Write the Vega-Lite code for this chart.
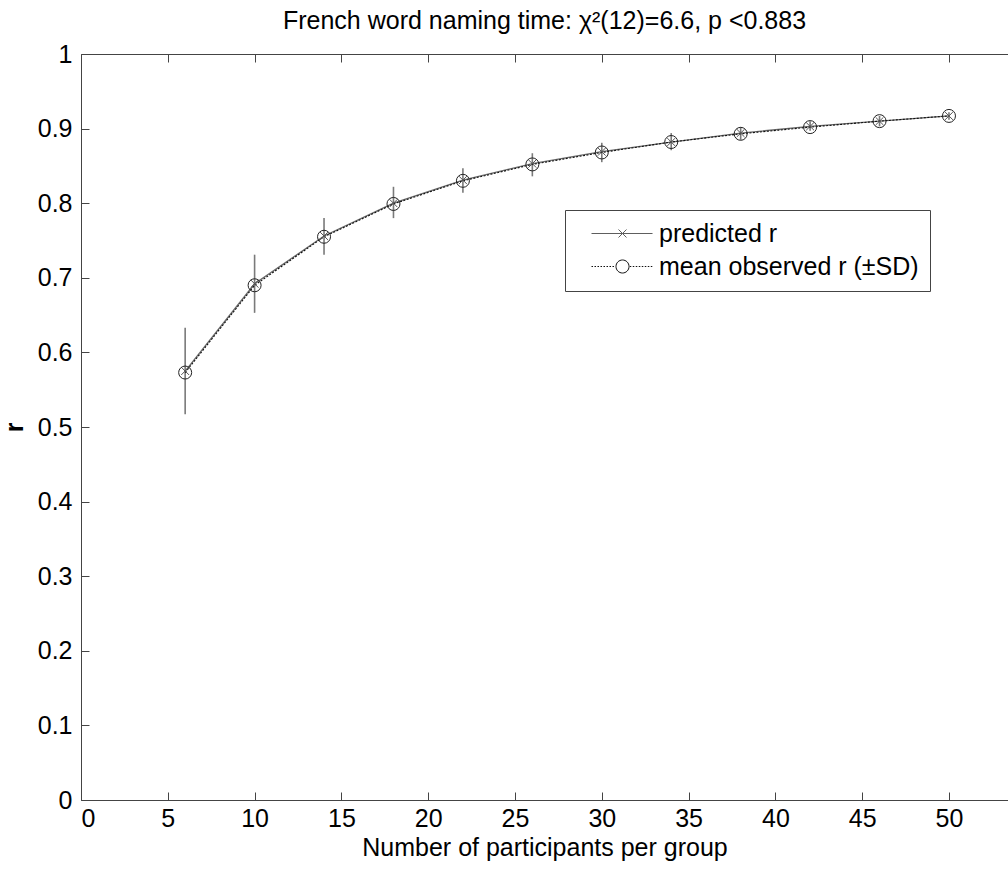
{
  "$schema": "https://vega.github.io/schema/vega-lite/v6.json",
  "width": 927,
  "height": 746,
  "autosize": {"type": "none"},
  "padding": {"left": 81, "top": 54, "right": 0, "bottom": 70},
  "background": "white",
  "title": {"text": "French word naming time: χ²(12)=6.6, p <0.883", "fontSize": 25, "font": "Liberation Sans", "fontWeight": "normal", "color": "black", "baseline": "alphabetic", "offset": -12, "anchor": "middle"},
  "config": {
    "view": {"stroke": null},
    "axis": {
      "labelFont": "Liberation Sans", "labelFontSize": 25, "labelColor": "black",
      "titleFont": "Liberation Sans", "titleFontSize": 25, "titleFontWeight": "normal", "titleColor": "black",
      "tickColor": "#444", "domainColor": "#444", "tickSize": -8, "tickWidth": 1, "domainWidth": 1, "grid": false
    },
    "axisX": {"labelPadding": 14},
    "axisY": {"labelPadding": 17},
    "legend": {
      "padding": 11, "strokeColor": "#444", "fillColor": "white",
      "labelFont": "Liberation Sans", "labelFontSize": 25, "labelColor": "black", "labelOffset": 58,
      "rowPadding": 7, "symbolSize": 88, "labelLimit": 400, "symbolStrokeWidth": 1
    }
  },
  "datasets": {
    "pts": [
      {"n": 6, "r": 0.575, "series": "predicted r"},
      {"n": 10, "r": 0.692, "series": "predicted r"},
      {"n": 14, "r": 0.756, "series": "predicted r"},
      {"n": 18, "r": 0.800, "series": "predicted r"},
      {"n": 22, "r": 0.831, "series": "predicted r"},
      {"n": 26, "r": 0.853, "series": "predicted r"},
      {"n": 30, "r": 0.869, "series": "predicted r"},
      {"n": 34, "r": 0.882, "series": "predicted r"},
      {"n": 38, "r": 0.894, "series": "predicted r"},
      {"n": 42, "r": 0.903, "series": "predicted r"},
      {"n": 46, "r": 0.910, "series": "predicted r"},
      {"n": 50, "r": 0.917, "series": "predicted r"},
      {"n": 6, "r": 0.573, "series": "mean observed r (±SD)"},
      {"n": 10, "r": 0.690, "series": "mean observed r (±SD)"},
      {"n": 14, "r": 0.755, "series": "mean observed r (±SD)"},
      {"n": 18, "r": 0.799, "series": "mean observed r (±SD)"},
      {"n": 22, "r": 0.830, "series": "mean observed r (±SD)"},
      {"n": 26, "r": 0.852, "series": "mean observed r (±SD)"},
      {"n": 30, "r": 0.868, "series": "mean observed r (±SD)"},
      {"n": 34, "r": 0.882, "series": "mean observed r (±SD)"},
      {"n": 38, "r": 0.893, "series": "mean observed r (±SD)"},
      {"n": 42, "r": 0.902, "series": "mean observed r (±SD)"},
      {"n": 46, "r": 0.910, "series": "mean observed r (±SD)"},
      {"n": 50, "r": 0.917, "series": "mean observed r (±SD)"}
    ],
    "err": [
      {"n": 6, "lo": 0.517, "hi": 0.633},
      {"n": 10, "lo": 0.653, "hi": 0.731},
      {"n": 14, "lo": 0.731, "hi": 0.780},
      {"n": 18, "lo": 0.780, "hi": 0.822},
      {"n": 22, "lo": 0.814, "hi": 0.847},
      {"n": 26, "lo": 0.836, "hi": 0.867},
      {"n": 30, "lo": 0.855, "hi": 0.881},
      {"n": 34, "lo": 0.871, "hi": 0.894},
      {"n": 38, "lo": 0.885, "hi": 0.902},
      {"n": 42, "lo": 0.897, "hi": 0.910},
      {"n": 46, "lo": 0.903, "hi": 0.917},
      {"n": 50, "lo": 0.912, "hi": 0.922}
    ]
  },
  "resolve": {"axis": {"x": "independent"}},
  "layer": [
    {
      "data": {"name": "err"},
      "mark": {"type": "rule", "color": "#7a7a7a", "strokeWidth": 1.6},
      "encoding": {
        "x": {"field": "n", "type": "quantitative", "scale": {"domain": [0, 53.4], "nice": false, "zero": false},
              "axis": {"orient": "bottom", "values": [0, 5, 10, 15, 20, 25, 30, 35, 40, 45, 50], "title": "Number of participants per group", "titlePadding": 4}},
        "y": {"field": "lo", "type": "quantitative", "scale": {"domain": [0, 1], "nice": false, "zero": false},
              "axis": {"orient": "left", "values": [0, 0.1, 0.2, 0.3, 0.4, 0.5, 0.6, 0.7, 0.8, 0.9, 1], "format": "~g", "title": "r", "titleFontWeight": "bold", "titlePadding": 10}},
        "y2": {"field": "hi"}
      }
    },
    {
      "data": {"name": "pts"},
      "transform": [{"filter": "datum.series === 'predicted r'"}],
      "mark": {"type": "line", "strokeWidth": 1.3, "color": "#6a6a6a"},
      "encoding": {
        "x": {"field": "n", "type": "quantitative", "axis": null},
        "y": {"field": "r", "type": "quantitative", "axis": {"orient": "left", "values": [0, 0.1, 0.2, 0.3, 0.4, 0.5, 0.6, 0.7, 0.8, 0.9, 1], "format": "~g", "title": "r", "titleFontWeight": "bold", "titlePadding": 10}}
      }
    },
    {
      "data": {"name": "pts"},
      "transform": [{"filter": "datum.series !== 'predicted r'"}],
      "mark": {"type": "line", "strokeWidth": 1.1, "color": "#111111", "strokeDash": [2, 1.5]},
      "encoding": {
        "x": {"field": "n", "type": "quantitative", "axis": null},
        "y": {"field": "r", "type": "quantitative", "axis": {"orient": "left", "values": [0, 0.1, 0.2, 0.3, 0.4, 0.5, 0.6, 0.7, 0.8, 0.9, 1], "format": "~g", "title": "r", "titleFontWeight": "bold", "titlePadding": 10}}
      }
    },
    {
      "data": {"name": "pts"},
      "transform": [{"filter": "datum.series === 'predicted r'"}],
      "mark": {"type": "point", "filled": false, "size": 169, "strokeWidth": 1, "opacity": 1, "color": "#555555", "shape": "M-0.6,-0.6L0.6,0.6M-0.6,0.6L0.6,-0.6"},
      "encoding": {
        "x": {"field": "n", "type": "quantitative", "axis": {"orient": "top", "labels": false, "title": null, "values": [0, 5, 10, 15, 20, 25, 30, 35, 40, 45, 50]}},
        "y": {"field": "r", "type": "quantitative", "axis": {"orient": "left", "values": [0, 0.1, 0.2, 0.3, 0.4, 0.5, 0.6, 0.7, 0.8, 0.9, 1], "format": "~g", "title": "r", "titleFontWeight": "bold", "titlePadding": 10}}
      }
    },
    {
      "data": {"name": "pts"},
      "transform": [{"filter": "datum.series !== 'predicted r'"}],
      "mark": {"type": "point", "filled": false, "size": 169, "strokeWidth": 1, "opacity": 1, "color": "#222222", "shape": "circle"},
      "encoding": {
        "x": {"field": "n", "type": "quantitative", "axis": null},
        "y": {"field": "r", "type": "quantitative", "axis": {"orient": "left", "values": [0, 0.1, 0.2, 0.3, 0.4, 0.5, 0.6, 0.7, 0.8, 0.9, 1], "format": "~g", "title": "r", "titleFontWeight": "bold", "titlePadding": 10}}
      }
    },
    {
      "data": {"name": "pts"},
      "transform": [{"filter": "false"}],
      "mark": {"type": "point", "filled": false, "strokeWidth": 1, "opacity": 1},
      "encoding": {
        "x": {"field": "n", "type": "quantitative", "axis": null},
        "y": {"field": "r", "type": "quantitative", "axis": {"orient": "left", "values": [0, 0.1, 0.2, 0.3, 0.4, 0.5, 0.6, 0.7, 0.8, 0.9, 1], "format": "~g", "title": "r", "titleFontWeight": "bold", "titlePadding": 10}},
        "color": {"field": "series", "type": "nominal",
          "scale": {"domain": ["predicted r", "mean observed r (±SD)"], "range": ["#5e5e5e", "#111111"]},
          "legend": {"title": null, "orient": "none", "legendX": 484, "legendY": 156}},
        "shape": {"field": "series", "type": "nominal",
          "scale": {"domain": ["predicted r", "mean observed r (±SD)"], "range": ["M0.64,0H13.65M6.4,-0.85L8.1,0.85M6.4,0.85L8.1,-0.85", "M0.64,0H0.96M1.28,0H1.6M1.92,0H2.24M2.56,0H2.88M3.2,0H3.52M3.84,0H4.16M4.48,0H4.8M5.12,0H5.44M8.64,0A1.39,1.39 0 1,1 5.86,0A1.39,1.39 0 1,1 8.64,0M8.8,0H9.12M9.44,0H9.76M10.08,0H10.4M10.72,0H11.04M11.36,0H11.68M12,0H12.32M12.64,0H12.96M13.28,0H13.6"]},
          "legend": {"title": null, "orient": "none", "legendX": 484, "legendY": 156}
        }
      }
    }
  ]
}
